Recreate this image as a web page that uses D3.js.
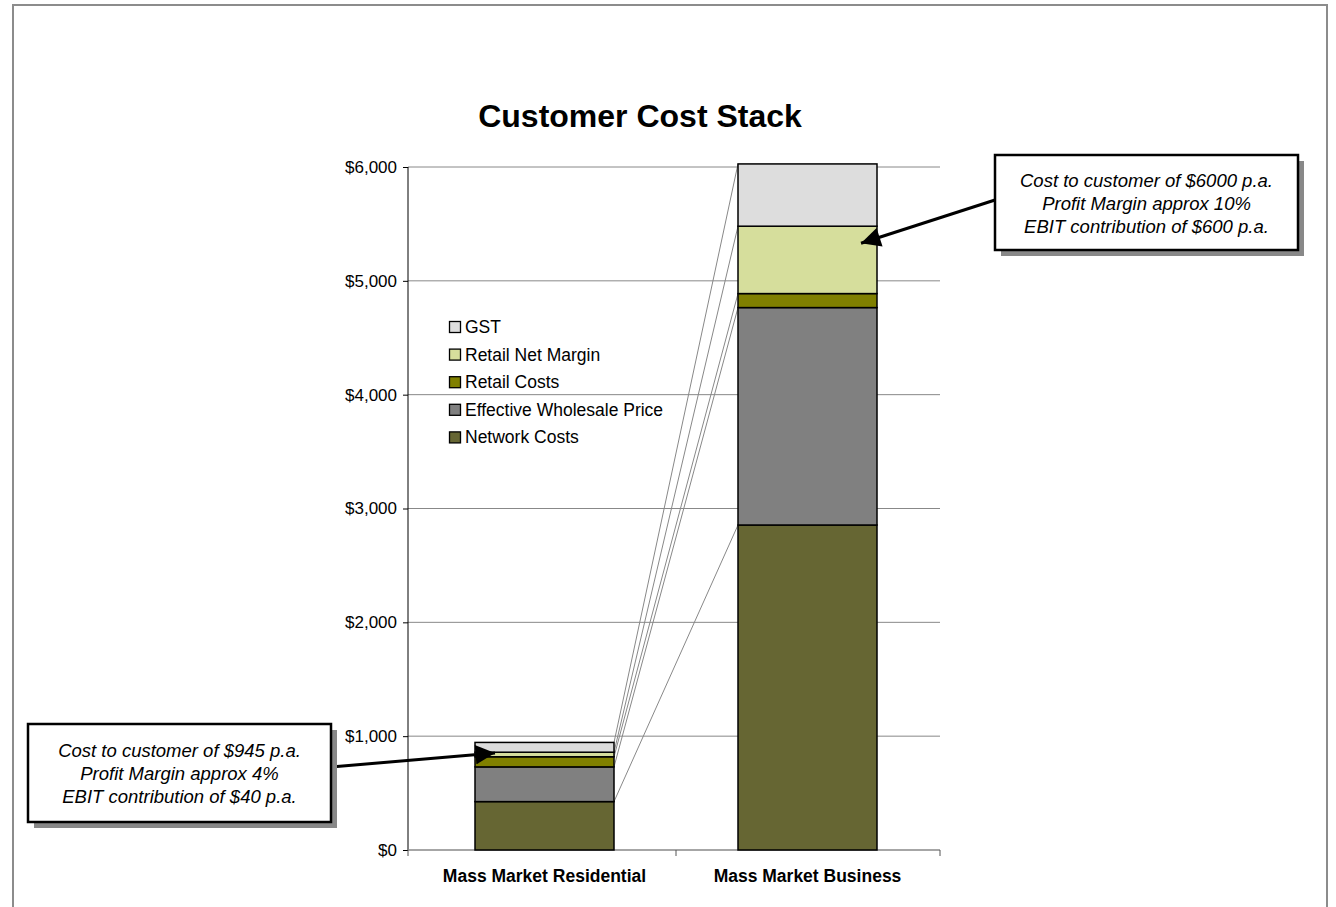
<!DOCTYPE html>
<html>
<head>
<meta charset="utf-8">
<script src="https://cdn.jsdelivr.net/npm/d3@7"></script>
<style>
  body { margin: 0; background: #fff; }
  text { font-family: "Liberation Sans", Arial, sans-serif; }
</style>
</head>
<body>
<div id="chart"></div>
<script>
// Data
const categories = ["Mass Market Residential", "Mass Market Business"];
const seriesNames = ["Network Costs", "Effective Wholesale Price", "Retail Costs", "Retail Net Margin", "GST"];
const networkCosts = [425, 2855];
const wholesalePrice = [305, 1910];
const retailCosts = [89, 123];
const retailNetMargin = [40, 592];
const gst = [86, 547];
const yTicks = [0, 1000, 2000, 3000, 4000, 5000, 6000];
const notes = [
  ["Cost to customer of $945 p.a.", "Profit Margin approx 4%", "EBIT contribution of $40 p.a."],
  ["Cost to customer of $6000 p.a.", "Profit Margin approx 10%", "EBIT contribution of $600 p.a."]
];

const colors = ["#666633", "#808080", "#808000", "#d6de9c", "#dddddd"];
const seriesValues = [networkCosts, wholesalePrice, retailCosts, retailNetMargin, gst];

const W = 1336, H = 907;
const plot = {left: 408, right: 940, top: 167, bottom: 850};

const svg = d3.select("#chart")
    .append("svg")
    .attr("width", W)
    .attr("height", H);

// outer chart frame
svg.append("path")
    .attr("d", `M13,${H} V5 H1327 V${H}`)
    .attr("fill", "none")
    .attr("stroke", "#8c8c8c")
    .attr("stroke-width", 2);

// Build stacked table
const table = categories.map((c, i) => {
    const row = {category: c};
    seriesNames.forEach((s, j) => row[s] = seriesValues[j][i]);
    return row;
});
const stacked = d3.stack().keys(seriesNames)(table);

const x = d3.scaleBand()
    .domain(categories)
    .range([413, 939])
    .paddingInner(0)
    .paddingOuter(0);
const y = d3.scaleLinear()
    .domain([0, 6000])
    .range([plot.bottom, plot.top]);

const barW = 139;
const barX = c => x(c) + (x.bandwidth() - barW) / 2;

// title
svg.append("text")
    .attr("x", 640)
    .attr("y", 127)
    .attr("text-anchor", "middle")
    .attr("font-size", 32)
    .attr("font-weight", "bold")
    .text("Customer Cost Stack");

// gridlines
svg.append("g")
    .selectAll("line")
    .data(yTicks.filter(d => d > 0))
    .join("line")
    .attr("x1", plot.left)
    .attr("x2", plot.right)
    .attr("y1", d => y(d))
    .attr("y2", d => y(d))
    .attr("stroke", "#888")
    .attr("stroke-width", 1);

// y axis
const yAxis = svg.append("g")
    .attr("transform", `translate(${plot.left},0)`)
    .call(d3.axisLeft(y).tickValues(yTicks).tickSize(5).tickPadding(6)
        .tickFormat(d => "$" + d3.format(",")(d)));
yAxis.select(".domain").attr("stroke", "#000").attr("d", `M0,${plot.top}V${plot.bottom}`);
yAxis.selectAll("text").attr("font-size", 17).attr("fill", "#000")
    .attr("font-family", "'Liberation Sans', Arial, sans-serif");

// x axis
const xAxis = svg.append("g")
    .attr("transform", `translate(0,${plot.bottom})`);
xAxis.append("line")
    .attr("x1", plot.left).attr("x2", plot.right)
    .attr("stroke", "#888").attr("stroke-width", 1.5);
xAxis.selectAll(".tk")
    .data([plot.left, x(categories[1]), plot.right])
    .join("line")
    .attr("x1", d => d).attr("x2", d => d)
    .attr("y1", 0).attr("y2", 6)
    .attr("stroke", "#555");
xAxis.selectAll("text")
    .data(categories)
    .join("text")
    .attr("x", d => x(d) + x.bandwidth() / 2)
    .attr("y", 32)
    .attr("text-anchor", "middle")
    .attr("font-size", 17.5)
    .attr("font-weight", "bold")
    .text(d => d);

// series lines (connect segment tops between bars)
svg.append("g")
    .selectAll("line")
    .data(stacked)
    .join("line")
    .attr("x1", barX(categories[0]) + barW)
    .attr("y1", d => y(d[0][1]))
    .attr("x2", barX(categories[1]))
    .attr("y2", d => y(d[1][1]))
    .attr("stroke", "#888")
    .attr("stroke-width", 1);

// bars
svg.append("g")
    .selectAll("g")
    .data(stacked)
    .join("g")
    .attr("fill", (d, i) => colors[i])
    .selectAll("rect")
    .data(d => d)
    .join("rect")
    .attr("x", d => barX(d.data.category))
    .attr("width", barW)
    .attr("y", d => y(d[1]))
    .attr("height", d => y(d[0]) - y(d[1]))
    .attr("stroke", "#000")
    .attr("stroke-width", 1.5);

// legend
const legend = svg.append("g")
    .attr("transform", "translate(449,327)");
const legendItems = seriesNames.slice().reverse();
legendItems.forEach((name, i) => {
    const g = legend.append("g").attr("transform", `translate(0,${i * 27.6})`);
    g.append("rect")
        .attr("x", 0.5).attr("y", -5.5)
        .attr("width", 11).attr("height", 11)
        .attr("fill", colors[seriesNames.indexOf(name)])
        .attr("stroke", "#000").attr("stroke-width", 1.3);
    g.append("text")
        .attr("x", 16).attr("y", 6)
        .attr("font-size", 17.5)
        .text(name);
});

// arrow marker
svg.append("defs").append("marker")
    .attr("id", "arrow")
    .attr("viewBox", "0 0 10 10")
    .attr("refX", 10).attr("refY", 5)
    .attr("markerWidth", 8).attr("markerHeight", 6.5)
    .attr("markerUnits", "strokeWidth")
    .attr("orient", "auto")
    .append("path")
    .attr("d", "M0,0 L10,5 L0,10 z")
    .attr("fill", "#000");

// annotation boxes
const boxes = [
    {x: 28, y: 724, w: 303, h: 98, tip: [barX(categories[0]) + 20, y(852)], from: [331, 767]},
    {x: 995, y: 155, w: 303, h: 95, tip: [barX(categories[1]) + 123, y(5330)], from: [995, 200]}
];
boxes.forEach((b, i) => {
    svg.append("line")
        .attr("x1", b.from[0]).attr("y1", b.from[1])
        .attr("x2", b.tip[0]).attr("y2", b.tip[1])
        .attr("stroke", "#000").attr("stroke-width", 3)
        .attr("marker-end", "url(#arrow)");
    svg.append("rect")
        .attr("x", b.x + 6).attr("y", b.y + 6)
        .attr("width", b.w).attr("height", b.h)
        .attr("fill", "#888");
    svg.append("rect")
        .attr("x", b.x).attr("y", b.y)
        .attr("width", b.w).attr("height", b.h)
        .attr("fill", "#fff")
        .attr("stroke", "#000").attr("stroke-width", 2.5);
    const t = svg.append("text")
        .attr("text-anchor", "middle")
        .attr("font-size", 18.5)
        .attr("font-style", "italic");
    notes[i].forEach((line, k) => {
        t.append("tspan")
            .attr("x", b.x + b.w / 2)
            .attr("y", b.y + b.h / 2 - 16 + k * 23)
            .text(line);
    });
});
</script>
</body>
</html>
